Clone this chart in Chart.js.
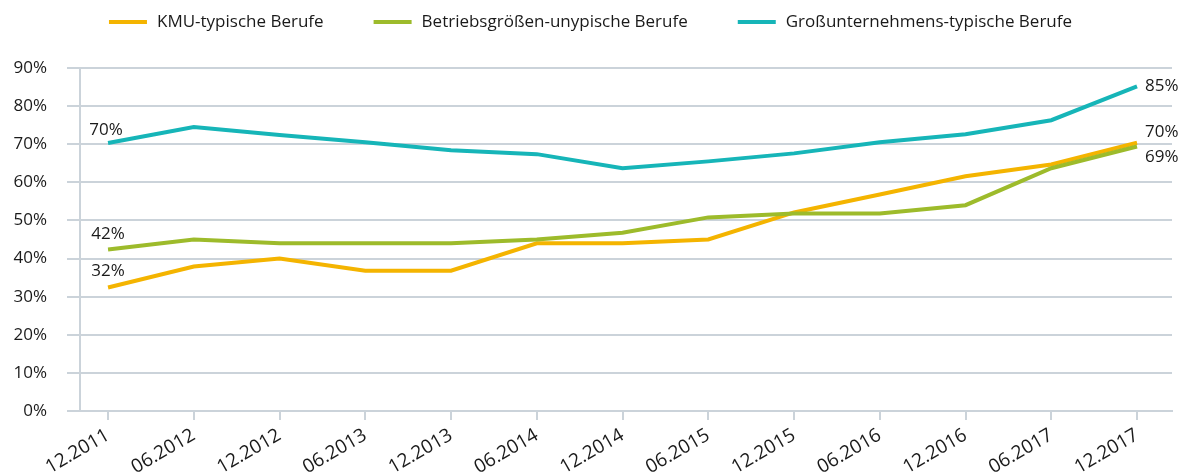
<!DOCTYPE html>
<html>
<head>
<meta charset="utf-8">
<script src="https://cdn.jsdelivr.net/npm/chart.js@4"></script>
<style>
  html, body { margin: 0; padding: 0; background: #fff; }
  #wrap { width: 1189px; height: 476px; }
</style>
</head>
<body>
<div id="wrap"><canvas id="chart" width="1189" height="476"></canvas></div>
<script>
// categories and series
const periods = ['12.2011', '06.2012', '12.2012', '06.2013', '12.2013', '06.2014', '12.2014',
                 '06.2015', '12.2015', '06.2016', '12.2016', '06.2017', '12.2017'];
const kmuTypisch = [32.4, 37.9, 40.0, 36.8, 36.8, 44.0, 44.0, 45.0, 52.1, 56.8, 61.6, 64.7, 70.4];
const unTypisch = [42.4, 45.0, 44.0, 44.0, 44.0, 45.0, 46.8, 50.8, 51.8, 51.8, 54.0, 63.7, 69.4];
const grossTypisch = [70.3, 74.5, 72.4, 70.5, 68.4, 67.4, 63.7, 65.5, 67.6, 70.5, 72.6, 76.3, 85.2];
const yTicks = [0, 10, 20, 30, 40, 50, 60, 70, 80, 90];

const seriesNames = ['KMU-typische Berufe', 'Betriebsgrößen-unypische Berufe', 'Großunternehmens-typische Berufe'];
const colors = ['#f4b400', '#9dbb2b', '#16b5b8'];
const gridColor = '#cbd3da';
const textColor = '#1a1a1a';
const FONT = '"Open Sans", "Noto Sans", sans-serif';

// where the first/last value labels sit relative to their point: [dx, dy, align]
const firstLabelPos = [[0, -8, 'center'], [0, -7, 'center'], [-2, -4, 'center']];
const lastLabelPos = [[8, -11, 'left'], [8, 11, 'left'], [8, 0, 'left']];

const toPoints = arr => arr.map((v, i) => ({ x: i, y: v }));

// draws the legend row at the top
const topLegend = {
    id: 'topLegend',
    afterDraw(chart) {
        const ctx = chart.ctx;
        const lineW = 38, gap = 10, itemGap = 50, y = 22;
        ctx.save();
        ctx.font = '17px ' + FONT;
        const items = chart.data.datasets.map(ds => ({
            label: ds.label, color: ds.borderColor, w: ctx.measureText(ds.label).width
        }));
        const total = items.reduce((s, it) => s + lineW + gap + it.w, 0) + itemGap * (items.length - 1);
        let x = (chart.width - total) / 2 - 4;
        items.forEach(it => {
            ctx.strokeStyle = it.color;
            ctx.lineWidth = 4;
            ctx.beginPath();
            ctx.moveTo(x, y);
            ctx.lineTo(x + lineW, y);
            ctx.stroke();
            ctx.fillStyle = textColor;
            ctx.textBaseline = 'middle';
            ctx.textAlign = 'left';
            ctx.fillText(it.label, x + lineW + gap, y);
            x += lineW + gap + it.w + itemGap;
        });
        ctx.restore();
    }
};

// percent labels at the start and end of each line
const endLabels = {
    id: 'endLabels',
    afterDatasetsDraw(chart) {
        const ctx = chart.ctx;
        const xs = chart.scales.x, ys = chart.scales.y;
        ctx.save();
        ctx.font = '17px ' + FONT;
        ctx.fillStyle = textColor;
        chart.data.datasets.forEach((ds, i) => {
            const first = ds.data[0];
            const last = ds.data[ds.data.length - 1];
            [[first, firstLabelPos[i]], [last, lastLabelPos[i]]].forEach(([pt, pos]) => {
                const px = xs.getPixelForValue(pt.x) + pos[0];
                const py = ys.getPixelForValue(pt.y) + pos[1];
                ctx.textAlign = pos[2];
                ctx.textBaseline = pos[2] === 'center' ? 'bottom' : 'middle';
                ctx.fillText(Math.round(pt.y) + '%', px, py);
            });
        });
        ctx.restore();
    }
};

const datasets = [kmuTypisch, unTypisch, grossTypisch].map((vals, i) => ({
    label: seriesNames[i],
    data: toPoints(vals),
    borderColor: colors[i],
    backgroundColor: colors[i],
    borderWidth: 4,
    pointRadius: 0,
    tension: 0,
    order: 3 - i
}));

new Chart(document.getElementById('chart'), {
    type: 'line',
    data: { datasets },
    options: {
        responsive: false,
        animation: false,
        layout: { padding: { top: 68, right: 17, bottom: 0, left: 0 } },
        plugins: {
            legend: { display: false },
            tooltip: { enabled: false }
        },
        scales: {
            x: {
                type: 'linear',
                min: -0.327,
                max: 12.408,
                afterBuildTicks: scale => { scale.ticks = periods.map((_, i) => ({ value: i })); },
                afterFit: scale => { scale.height = 65; },
                ticks: {
                    autoSkip: false,
                    minRotation: 30,
                    maxRotation: 30,
                    padding: 4,
                    color: textColor,
                    font: { family: FONT, size: 19 },
                    callback: v => periods[v]
                },
                grid: { drawOnChartArea: false, drawTicks: true, tickLength: 9, color: gridColor, lineWidth: 2 },
                border: { display: true, color: gridColor, width: 2 }
            },
            y: {
                min: 0,
                max: 90,
                afterBuildTicks: scale => { scale.ticks = yTicks.map(v => ({ value: v })); },
                afterFit: scale => { scale.width = 80; },
                ticks: {
                    padding: 20,
                    color: textColor,
                    font: { family: FONT, size: 17 },
                    callback: v => v + '%'
                },
                grid: { color: gridColor, lineWidth: 2, tickLength: 13, drawTicks: true },
                border: { display: true, color: gridColor, width: 2 }
            }
        }
    },
    plugins: [topLegend, endLabels]
});
</script>
</body>
</html>
